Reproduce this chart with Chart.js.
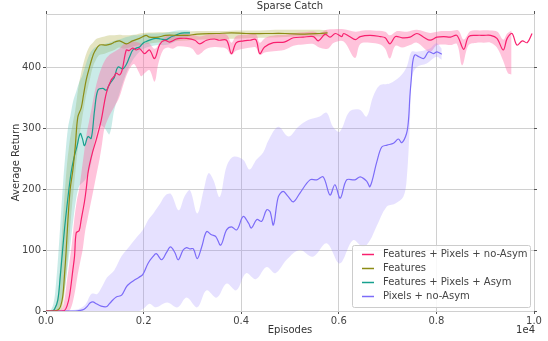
<!DOCTYPE html>
<html>
<head>
<meta charset="utf-8">
<title>Sparse Catch</title>
<style>
  html, body { margin: 0; padding: 0; background: #ffffff; }
  .chart-container { width: 548px; height: 341px; }
</style>
</head>
<body>
<div class="chart-container">
  <canvas id="catchChart" width="548" height="341"></canvas>
</div>

<script src="https://cdn.jsdelivr.net/npm/chart.js"></script>
<script>
// readings: [episode, average return]
const seriesNames = ['Features + Pixels + no-Asym', 'Features', 'Features + Pixels + Asym', 'Pixels + no-Asym'];
const xTicks = [0, 2000, 4000, 6000, 8000, 10000];
const yTicks = [0, 100, 200, 300, 400];

const featPixNoAsymMean = [[0,0],[300,0],[379,1],[430,8],[482,25],[550,67],[585,90],[619,128],[680,132],[722,150],[790,180],[824,200],[858,225],[892,240],[960,262],[1030,281],[1132,313],[1235,357],[1337,379],[1400,385],[1440,390],[1508,387],[1560,395],[1645,428],[1700,427],[1774,431],[1850,428],[1920,430],[2020,422],[2120,428],[2225,414],[2330,437],[2430,444],[2530,441],[2670,446],[2750,447],[2880,447],[3050,444],[3150,438],[3290,444],[3450,446],[3550,444],[3700,444],[3800,422],[3900,440],[4050,443],[4180,444],[4300,445],[4380,422],[4480,433],[4660,440],[4880,441],[5070,448],[5270,449],[5480,450],[5580,443],[5720,454],[5820,449],[5930,455],[6060,450],[6100,455],[6220,450],[6340,445],[6440,450],[6640,452],[6850,450],[6950,448],[7050,438],[7160,450],[7300,448],[7460,449],[7600,455],[7740,449],[7870,444],[8010,449],[8150,450],[8290,449],[8420,452],[8560,429],[8660,450],[8830,452],[8970,452],[9110,452],[9240,447],[9370,428],[9450,447],[9550,455],[9650,436],[9760,443],[9860,440],[9960,455]];
const featPixNoAsymHi = [[0,0],[250,0],[330,5],[380,20],[430,50],[480,80],[530,110],[580,150],[630,180],[680,200],[730,230],[780,260],[830,290],[880,310],[940,335],[1000,360],[1060,380],[1120,395],[1200,410],[1300,420],[1400,425],[1500,430],[1600,438],[1700,440],[1800,442],[1900,440],[2000,438],[2100,440],[2230,430],[2350,442],[2450,450],[2600,452],[2800,454],[3000,453],[3150,450],[3300,453],[3500,454],[3700,453],[3800,440],[3900,451],[4100,453],[4300,454],[4380,440],[4500,448],[4700,452],[4900,453],[5100,456],[5300,457],[5500,458],[5600,455],[5750,461],[5900,462],[6100,462],[6340,458],[6500,460],[6700,460],[6950,458],[7050,452],[7200,459],[7400,458],[7600,461],[7870,456],[8100,459],[8300,459],[8450,460],[8560,445],[8700,459],[8900,460],[9100,460],[9250,458],[9370,445],[9450,455],[9540,460]];
const featPixNoAsymLo = [[0,0],[450,0],[500,3],[550,15],[600,35],[650,60],[700,80],[750,100],[800,130],[850,150],[900,170],[950,190],[1000,210],[1050,230],[1100,250],[1150,275],[1200,300],[1300,320],[1400,335],[1500,350],[1600,375],[1700,395],[1800,405],[1900,392],[1950,385],[2020,390],[2120,395],[2225,376],[2300,405],[2400,428],[2500,432],[2600,430],[2700,434],[2900,433],[3000,430],[3113,420],[3290,430],[3450,433],[3600,432],[3700,430],[3798,420],[3900,427],[4050,430],[4200,432],[4300,432],[4380,420],[4480,424],[4660,426],[4880,428],[5070,435],[5270,437],[5480,438],[5600,432],[5770,430],[5900,440],[6100,442],[6330,415],[6440,438],[6640,440],[6850,437],[6950,430],[7045,414],[7160,435],[7300,432],[7460,436],[7600,440],[7866,425],[8010,436],[8150,437],[8290,436],[8420,438],[8530,403],[8660,436],[8830,440],[8970,440],[9110,440],[9240,432],[9370,410],[9466,390],[9540,388]];

const featuresMean = [[0,0],[150,0],[250,2],[300,8],[345,25],[380,60],[414,100],[450,150],[496,200],[550,231],[600,270],[652,318],[722,333],[770,355],[824,379],[892,400],[950,416],[995,425],[1097,436],[1235,436],[1337,438],[1410,441],[1507,443],[1645,438],[1774,443],[1918,447],[2050,452],[2120,449],[2300,449],[2450,452],[2700,452],[2900,452],[3100,454],[3500,455],[3800,456],[4100,455],[4500,455],[4900,455],[5300,454],[5600,455],[5770,456]];
const featuresHi = [[0,0],[150,3],[230,20],[280,60],[330,130],[380,190],[430,240],[480,275],[530,300],[600,330],[660,365],[720,390],[780,410],[840,425],[900,435],[960,440],[1030,446],[1100,448],[1200,450],[1300,452],[1400,452],[1500,453],[1600,452],[1800,453],[2000,456],[2400,457],[2800,458],[3200,459],[3600,459],[4000,460],[4400,460],[4800,461],[5200,461],[5600,461],[5770,460]];
const featuresLo = [[0,0],[280,0],[330,5],[380,30],[430,70],[480,120],[530,170],[580,210],[630,250],[680,285],[730,310],[780,335],[840,360],[900,380],[960,400],[1030,413],[1100,420],[1200,422],[1300,425],[1400,428],[1500,432],[1600,430],[1800,434],[2000,437],[2400,441],[2800,443],[3200,445],[3600,446],[4000,447],[4400,448],[4800,449],[5200,450],[5600,450],[5770,451]];

const featPixAsymMean = [[0,0],[120,0],[174,3],[242,18],[291,56],[340,100],[380,135],[420,165],[470,200],[520,230],[570,250],[632,269],[701,291],[745,283],[790,271],[858,286],[926,283],[995,329],[1063,362],[1165,365],[1235,362],[1290,370],[1337,376],[1400,383],[1473,400],[1575,397],[1650,405],[1713,417],[1780,428],[1850,431],[1918,433],[2000,440],[2057,442],[2150,445],[2250,447],[2350,446],[2470,445],[2550,449],[2650,452],[2740,455],[2850,456],[2950,456]];
const featPixAsymHi = [[0,0],[100,2],[160,15],[200,40],[250,90],[300,150],[350,210],[400,260],[450,300],[500,320],[560,345],[620,360],[680,375],[740,385],[800,400],[860,415],[920,425],[1000,432],[1100,435],[1200,438],[1300,440],[1400,443],[1500,445],[1600,448],[1700,450],[1800,452],[1900,452],[2000,454],[2100,455],[2300,455],[2500,457],[2700,460],[2950,460]];
const featPixAsymLo = [[0,0],[200,0],[260,3],[320,15],[380,35],[440,70],[500,110],[560,150],[620,185],[680,205],[740,210],[800,215],[860,225],[920,240],[980,270],[1040,295],[1100,305],[1200,300],[1300,290],[1400,330],[1500,355],[1600,380],[1700,400],[1800,414],[1900,424],[2000,430],[2150,434],[2300,436],[2450,436],[2600,440],[2750,447],[2950,450]];

const pixNoAsymMean = [[0,0],[600,0],[700,1],[780,3],[850,8],[900,13],[960,15],[1030,12],[1130,8],[1235,7],[1300,12],[1370,18],[1440,23],[1550,26],[1650,40],[1713,45],[1800,50],[1900,55],[1985,60],[2090,78],[2190,89],[2260,94],[2370,84],[2470,96],[2550,105],[2640,96],[2710,84],[2810,100],[2880,104],[2950,102],[3020,102],[3100,86],[3190,105],[3290,130],[3390,125],[3480,122],[3580,108],[3700,133],[3800,138],[3910,133],[4040,155],[4150,144],[4210,136],[4320,150],[4420,147],[4520,166],[4590,163],[4660,141],[4760,187],[4860,196],[4960,188],[5070,179],[5200,193],[5410,215],[5550,215],[5680,220],[5820,190],[5920,207],[6030,185],[6160,215],[6330,215],[6440,220],[6570,213],[6640,204],[6780,245],[6880,269],[6990,272],[7120,275],[7220,282],[7290,276],[7388,291],[7430,315],[7456,351],[7490,385],[7511,406],[7558,420],[7640,417],[7740,414],[7840,425],[7940,422],[8010,425],[8110,421]];
const pixNoAsymHi = [[0,0],[600,2],[800,10],[930,28],[1050,28],[1150,40],[1250,55],[1400,67],[1550,90],[1700,105],[1850,120],[2000,135],[2100,150],[2200,160],[2330,175],[2450,190],[2560,192],[2720,165],[2840,188],[2950,198],[3100,160],[3230,198],[3330,226],[3430,215],[3560,187],[3700,237],[3840,253],[4040,248],[4170,232],[4310,248],[4450,260],[4560,280],[4760,302],[4970,286],[5170,302],[5370,313],[5610,319],[5750,325],[5880,302],[6020,294],[6220,327],[6430,330],[6570,319],[6700,351],[6840,370],[7040,373],[7250,384],[7390,400],[7490,425],[7600,425],[7860,430],[8000,439],[8110,430]];
const pixNoAsymLo = [[0,0],[1900,0],[2000,4],[2120,12],[2250,6],[2480,14],[2700,6],[2880,22],[3100,6],[3290,34],[3500,22],[3700,45],[3900,34],[4100,62],[4300,52],[4520,72],[4700,62],[4930,84],[5200,100],[5470,89],[5750,111],[6020,78],[6290,116],[6500,105],[6640,116],[6770,138],[6980,171],[7150,176],[7320,187],[7390,215],[7456,307],[7500,384],[7600,400],[7800,406],[8000,417],[8110,412]];

const lineColors = ['#f8206e', '#8c8c14', '#17a08f', '#7c6cf8'];
const bandColors = ['rgba(255, 105, 165, 0.40)', 'rgba(165, 165, 50, 0.30)', 'rgba(95, 195, 185, 0.33)', 'rgba(150, 130, 255, 0.24)'];

const means = [featPixNoAsymMean, featuresMean, featPixAsymMean, pixNoAsymMean];
const highs = [featPixNoAsymHi, featuresHi, featPixAsymHi, pixNoAsymHi];
const lows = [featPixNoAsymLo, featuresLo, featPixAsymLo, pixNoAsymLo];

const toPoints = arr => arr.map(p => ({x: p[0], y: p[1]}));

const datasets = [];
// mean curves first so they sit on top
means.forEach((m, i) => {
  datasets.push({
    label: seriesNames[i],
    data: toPoints(m),
    borderColor: lineColors[i],
    borderWidth: 1.2,
    pointRadius: 0,
    tension: 0.35,
    fill: false,
    order: 0
  });
});
// bands: upper edge filled down to the lower edge right after it
const bandOrder = [3, 0, 2, 1];
bandOrder.forEach(i => {
  datasets.push({
    label: seriesNames[i] + ' hi',
    data: toPoints(highs[i]),
    borderWidth: 0,
    borderColor: 'rgba(0,0,0,0)',
    backgroundColor: bandColors[i],
    pointRadius: 0,
    tension: 0.35,
    fill: '+1',
    order: 1
  });
  datasets.push({
    label: seriesNames[i] + ' lo',
    data: toPoints(lows[i]),
    borderWidth: 0,
    borderColor: 'rgba(0,0,0,0)',
    pointRadius: 0,
    tension: 0.35,
    fill: false,
    order: 1
  });
});

const textFont = '10px "DejaVu Sans"';

const decorations = {
  id: 'decorations',
  afterDraw(chart) {
    const {ctx, chartArea: a, scales: {x, y}} = chart;
    ctx.save();

    // top and right spines
    ctx.strokeStyle = '#d0d0d0';
    ctx.lineWidth = 1;
    ctx.beginPath();
    ctx.moveTo(a.left, a.top + 0.5);
    ctx.lineTo(a.right + 0.5, a.top + 0.5);
    ctx.lineTo(a.right + 0.5, a.bottom);
    ctx.stroke();

    // small ticks on top and right
    ctx.strokeStyle = '#555';
    ctx.beginPath();
    xTicks.forEach(v => {
      const px = Math.round(x.getPixelForValue(v)) + 0.5;
      ctx.moveTo(px, a.top);
      ctx.lineTo(px, a.top - 3);
    });
    yTicks.forEach(v => {
      const py = Math.round(y.getPixelForValue(v)) + 0.5;
      ctx.moveTo(a.right, py);
      ctx.lineTo(a.right + 3, py);
    });
    ctx.stroke();

    ctx.fillStyle = '#333';
    ctx.font = textFont;
    ctx.textBaseline = 'middle';
    ctx.textAlign = 'center';
    ctx.fillText('Sparse Catch', (a.left + a.right) / 2, 6);

    ctx.textAlign = 'right';
    ctx.fillText('1e4', a.right + 1, 330);

    // legend box
    const lx = a.right - 182, ly = a.bottom - 66, lw = 178, lh = 62;
    ctx.fillStyle = 'rgba(255,255,255,0.85)';
    ctx.strokeStyle = '#cccccc';
    ctx.beginPath();
    ctx.roundRect(lx + 0.5, ly + 0.5, lw, lh, 2);
    ctx.fill();
    ctx.stroke();

    ctx.textAlign = 'left';
    seriesNames.forEach((name, i) => {
      const cy = ly + 9.5 + i * 14;
      ctx.strokeStyle = lineColors[i];
      ctx.lineWidth = 1.5;
      ctx.beginPath();
      ctx.moveTo(lx + 10, cy);
      ctx.lineTo(lx + 22, cy);
      ctx.stroke();
      ctx.fillStyle = '#444';
      ctx.fillText(name, lx + 31, cy);
    });
    ctx.restore();
  }
};

new Chart(document.getElementById('catchChart').getContext('2d'), {
  type: 'line',
  data: { datasets: datasets },
  options: {
    responsive: false,
    animation: false,
    layout: { padding: { top: 14, right: 14, left: 0, bottom: 0 } },
    plugins: {
      legend: { display: false },
      title: { display: false },
      tooltip: { enabled: false }
    },
    scales: {
      x: {
        type: 'linear',
        min: 0,
        max: 10000,
        afterBuildTicks: s => { s.ticks = xTicks.map(v => ({value: v})); },
        afterFit: s => { s.height = 30; },
        ticks: {
          callback: v => (v / 10000).toFixed(1),
          font: { family: 'DejaVu Sans', size: 10 },
          color: '#444',
          padding: 1,
          maxRotation: 0
        },
        grid: { color: '#d0d0d0', lineWidth: 1, tickLength: 3, tickColor: '#555' },
        border: { color: '#d0d0d0' },
        title: {
          display: true,
          text: 'Episodes',
          font: { family: 'DejaVu Sans', size: 10 },
          color: '#333',
          padding: { top: 0, bottom: 5 }
        }
      },
      y: {
        min: 0,
        max: 487,
        afterBuildTicks: s => { s.ticks = yTicks.map(v => ({value: v})); },
        afterFit: s => { s.width = 46; },
        ticks: {
          font: { family: 'DejaVu Sans', size: 10 },
          color: '#444',
          padding: 2
        },
        grid: { color: '#d0d0d0', lineWidth: 1, tickLength: 3, tickColor: '#555' },
        border: { color: '#d0d0d0' },
        title: {
          display: true,
          text: 'Average Return',
          font: { family: 'DejaVu Sans', size: 10 },
          color: '#333',
          padding: { top: 10, bottom: 0 }
        }
      }
    }
  },
  plugins: [decorations]
});
</script>
</body>
</html>
